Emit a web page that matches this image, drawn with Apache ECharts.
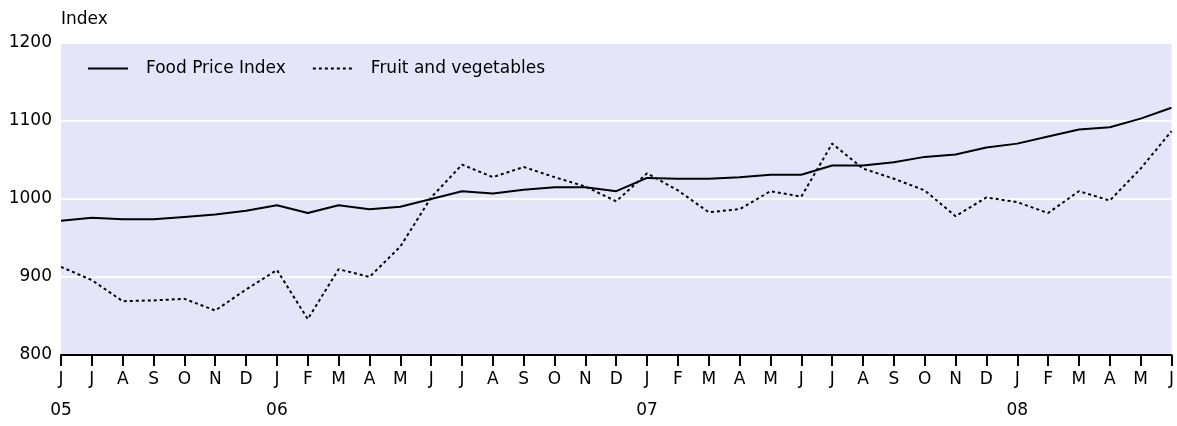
<!DOCTYPE html>
<html>
<head>
<meta charset="utf-8">
<script src="https://cdn.jsdelivr.net/npm/echarts@6/dist/echarts.min.js"></script>
<style>
  html, body { margin: 0; padding: 0; background: #fff; }
  #chart { width: 1177px; height: 426px; }
</style>
</head>
<body>
<div id="chart"></div>
<script>
// months Jun 2005 .. Jun 2008
var monthLabels = ['J','J','A','S','O','N','D','J','F','M','A','M',
                   'J','J','A','S','O','N','D','J','F','M','A','M',
                   'J','J','A','S','O','N','D','J','F','M','A','M','J'];
var yearLabels = ['05','','','','','','','06','','','','',
                  '','','','','','','','07','','','','',
                  '','','','','','','','08','','','','',''];

var foodPrice = [972, 976, 974, 974, 977, 980, 985, 992, 982, 992, 987, 990,
                 1000, 1010, 1007, 1012, 1015, 1015, 1010, 1027, 1026, 1026, 1028, 1031,
                 1031, 1043, 1043, 1047, 1054, 1057, 1066, 1071, 1080, 1089, 1092, 1103, 1117];
var fruitVeg = [913, 896, 869, 870, 872, 857, 884, 909, 846, 910, 900, 939,
                1002, 1044, 1028, 1041, 1028, 1016, 997, 1033, 1011, 983, 987, 1010,
                1003, 1071, 1039, 1026, 1011, 978, 1002, 996, 982, 1010, 998, 1039, 1087];

var font = 'DejaVu Sans';

var chart;

var option = {
    animation: false,
    textStyle: { fontFamily: font },
    grid: {
        left: 61,
        right: 5,
        top: 43,
        bottom: 66,
        show: true,
        backgroundColor: '#e5e5fa',
        borderWidth: 0
    },
    legend: {
        left: 82,
        top: 55,
        itemWidth: 40,
        itemHeight: 14,
        itemGap: 26,
        itemStyle: { opacity: 0 },
        textStyle: {
            color: '#000',
            fontSize: 17,
            fontFamily: font,
            padding: [0, 0, 0, 13]
        },
        data: ['Food Price Index', 'Fruit and vegetables']
    },
    xAxis: {
        type: 'category',
        boundaryGap: false,
        data: monthLabels,
        axisLine: { lineStyle: { color: '#000', width: 2 } },
        axisTick: { show: true, length: 11, interval: 0, lineStyle: { color: '#000', width: 2 } },
        axisLabel: {
            interval: 0,
            color: '#000',
            fontSize: 17,
            lineHeight: 31,
            margin: 9,
            formatter: function (value, idx) {
                return yearLabels[idx] ? value + '\n' + yearLabels[idx] : value;
            }
        },
        splitLine: { show: false }
    },
    yAxis: {
        type: 'value',
        min: 800,
        max: 1200,
        interval: 100,
        name: 'Index',
        nameLocation: 'end',
        nameGap: 23,
        nameTextStyle: { color: '#000', fontSize: 17, align: 'left', verticalAlign: 'middle' },
        axisLine: { show: false },
        axisTick: { show: false },
        axisLabel: {
            color: '#000',
            fontSize: 17,
            margin: 9,
            verticalAlign: 'middle',
            formatter: function (v) { return String(v); }
        },
        splitLine: { lineStyle: { color: '#ffffff', width: 2 } }
    },
    series: [
        {
            name: 'Food Price Index',
            type: 'line',
            symbol: 'none',
            data: foodPrice,
            lineStyle: { color: '#000', width: 2 },
            itemStyle: { color: '#000' }
        },
        {
            name: 'Fruit and vegetables',
            type: 'line',
            symbol: 'none',
            data: fruitVeg,
            lineStyle: { color: '#000', width: 2, type: [3, 3] },
            itemStyle: { color: '#000' }
        }
    ]
};

window.onload = function() {
    chart = echarts.init(document.getElementById('chart'));
    chart.setOption(option);
};
</script>
</body>
</html>
